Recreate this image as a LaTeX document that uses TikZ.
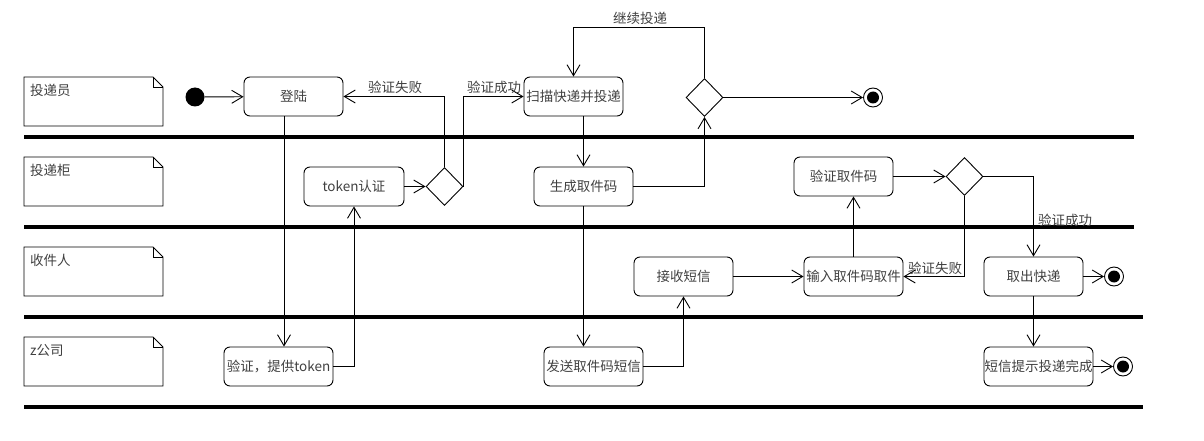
\documentclass[tikz,border=0pt]{standalone}
\usepackage{fontspec}
\newfontfamily\cjk{Noto Sans CJK SC}
\usetikzlibrary{arrows.meta,shapes.geometric}
\definecolor{txt}{HTML}{404040}
\begin{document}
\begin{tikzpicture}[x=1pt,y=-1pt,
  cjkfont/.style={font=\cjk\fontsize{13.5}{15}\selectfont},
  act/.style={draw, rounded corners=6pt, line width=0.9pt, text=txt, cjkfont, inner sep=0pt, minimum height=39pt, minimum width=99pt},
  dec/.style={draw, diamond, line width=0.9pt, minimum width=37pt, minimum height=38pt, inner sep=0pt},
  lbl/.style={text=txt, cjkfont, inner sep=0pt},
  flow/.style={line width=0.9pt, -{Straight Barb[length=11pt,width=13pt]}},
  bar/.style={line width=4.5pt},
  note/.style={line width=0.9pt},
  startst/.style={circle, fill=black, minimum size=19pt, inner sep=0pt},
  endst/.style={circle, draw, line width=0.9pt, minimum size=19pt, inner sep=0pt,
     path picture={\fill (path picture bounding box.center) circle (6pt);}}
]
\useasboundingbox (0,0) rectangle (1204,441);

% swimlane bars
\draw[bar] (24,137) -- (1134,137);
\draw[bar] (24,227) -- (1134,227);
\draw[bar] (24,317) -- (1143,317);
\draw[bar] (24,407) -- (1143,407);

% lane notes
\foreach \t/\name/\lab in {77/n1/投递员, 157/n2/投递柜, 247/n3/收件人, 337/n4/z公司}{
  \draw[note] (24,\t) -- (153,\t) -- (163,\t+10) -- (163,\t+49) -- (24,\t+49) -- cycle;
  \draw[note] (153,\t) -- (153,\t+10) -- (163,\t+10);
  \node[lbl, anchor=west] (\name) at (30,\t+13) {\lab};
}

% nodes
\node[startst] (start) at (195,97) {};
\node[act] (login) at (293.5,96.5) {登陆};
\node[act, minimum width=100pt] (token) at (354,186.5) {token认证};
\node[dec] (d1) at (444.5,186.5) {};
\node[act] (scan) at (573.5,96.5) {扫描快递并投递};
\node[dec] (d2) at (704.5,97.5) {};
\node[endst] (e1) at (873,97.5) {};
\node[act] (gen) at (583.5,186.5) {生成取件码};
\node[act, minimum width=109pt] (verify) at (278.5,366.5) {验证，提供token};
\node[act] (send) at (593.5,366.5) {发送取件码短信};
\node[act] (recv) at (683.5,276.5) {接收短信};
\node[act] (inp) at (853.5,276.5) {输入取件码取件};
\node[act] (verc) at (843.5,176.5) {验证取件码};
\node[dec] (d3) at (964.5,176.5) {};
\node[act] (take) at (1033.5,276.5) {取出快递};
\node[endst] (e2) at (1114,276.5) {};
\node[act, minimum width=109pt] (sms) at (1038.5,366.5) {短信提示投递完成};
\node[endst] (e3) at (1123,366.5) {};

\coordinate (loop) at (704.5,27);

% connectors
\draw[flow] (start) -- (login);
\draw[flow] ([xshift=-9.5pt]login.south) -- ([xshift=-9.5pt]login.south |- verify.north);
\draw[flow] (verify.east) -| (token.south);
\draw[flow] (token.east) -- (d1.west);
\draw[flow] (d1.north) |- (login.east);
\draw[flow] (d1.east) |- (scan.west);
\draw[flow] (scan.south -| gen.north) -- (gen.north);
\draw[flow] (gen.east) -| (d2.south);
\draw[flow] (d2.north) -- (loop) -| (scan.north);
\draw[flow] (d2.east) -- (e1);
\draw[flow] (gen.south) -- (gen.south |- send.north);
\draw[flow] (send.east) -| (recv.south);
\draw[flow] (recv.east) -- (inp.west);
\draw[flow] (inp.north) -- (inp.north |- verc.south);
\draw[flow] (verc.east) -- (d3.west);
\draw[flow] (d3.south) |- (inp.east);
\draw[flow] (d3.east) -| (take.north);
\draw[flow] (take.east) -- (e2);
\draw[flow] (take.south) -- (take.south |- sms.north);
\draw[flow] (sms.east) -- (e3);

% labels
\node[lbl] (l1) at (395,87) {验证失败};
\node[lbl] (l2) at (494,87) {验证成功};
\node[lbl] (l3) at (640,18) {继续投递};
\node[lbl] (l4) at (935,268) {验证失败};
\node[lbl] (l5) at (1065,220) {验证成功};
\end{tikzpicture}
\end{document}
